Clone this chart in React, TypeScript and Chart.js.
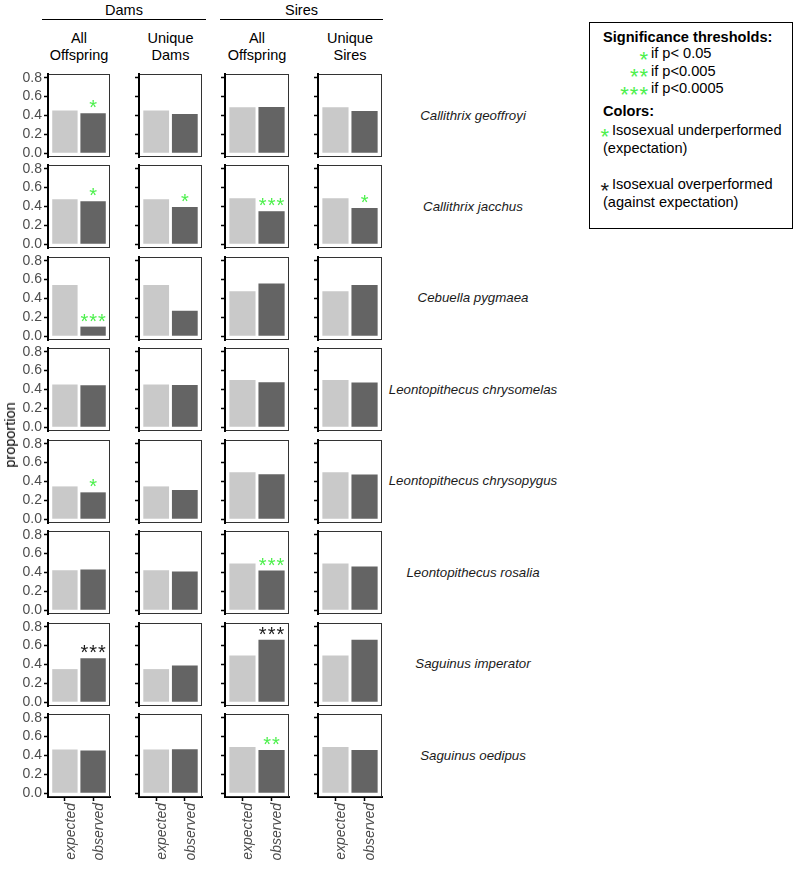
import React, { useEffect, useRef } from 'react';
import { Chart, registerables } from 'chart.js';

Chart.register(...registerables);

const FONT = "'Liberation Sans', Arial, Helvetica, sans-serif";
Chart.defaults.font.family = FONT;

// ---------------- data ----------------
const SPECIES = [
  'Callithrix geoffroyi',
  'Callithrix jacchus',
  'Cebuella pygmaea',
  'Leontopithecus chrysomelas',
  'Leontopithecus chrysopygus',
  'Leontopithecus rosalia',
  'Saguinus imperator',
  'Saguinus oedipus',
];
const GROUPS = ['Dams', 'Sires'];
const PANEL_TITLES = [
  ['All', 'Offspring'],
  ['Unique', 'Dams'],
  ['All', 'Offspring'],
  ['Unique', 'Sires'],
];
const CATEGORIES = ['expected', 'observed'];
const Y_TICKS = [0, 0.2, 0.4, 0.6, 0.8];
const Y_LABEL = 'proportion';

// columns: Dams/All Offspring, Dams/Unique Dams, Sires/All Offspring, Sires/Unique Sires
const EXPECTED = [
  [0.452, 0.452, 0.487, 0.487],
  [0.477, 0.477, 0.487, 0.487],
  [0.544, 0.544, 0.478, 0.478],
  [0.453, 0.453, 0.502, 0.502],
  [0.348, 0.348, 0.499, 0.499],
  [0.425, 0.425, 0.495, 0.495],
  [0.351, 0.351, 0.495, 0.495],
  [0.463, 0.463, 0.491, 0.491],
];
const OBSERVED = [
  [0.424, 0.417, 0.49, 0.449],
  [0.456, 0.396, 0.35, 0.385],
  [0.102, 0.27, 0.558, 0.544],
  [0.445, 0.449, 0.477, 0.474],
  [0.285, 0.31, 0.478, 0.475],
  [0.432, 0.41, 0.421, 0.463],
  [0.466, 0.389, 0.663, 0.663],
  [0.453, 0.466, 0.459, 0.459],
];
const STARS = [
  ['*', '', '', ''],
  ['*', '*', '***', '*'],
  ['***', '', '', ''],
  ['', '', '', ''],
  ['*', '', '', ''],
  ['', '', '***', ''],
  ['***', '', '***', ''],
  ['', '', '**', ''],
];

const LEGEND_TITLE = 'Significance thresholds:';
const LEGEND_THRESHOLDS = [
  ['*', 'if p< 0.05'],
  ['**', 'if p<0.005'],
  ['***', 'if p<0.0005'],
];
const LEGEND_COLORS_TITLE = 'Colors:';
const LEGEND_COLORS = [
  ['Isosexual underperformed', '(expectation)'],
  ['Isosexual overperformed', '(against expectation)'],
];

// ---------------- style / layout ----------------
const BOX_LEFT = [48, 139, 225, 318];
const BOX_W = [62, 63, 64, 64];
const BOX_TOP = 74;
const ROW_STEP = 91.43;
const BOX_H = 83;
const Y_AXIS_W = 48;
const PAD_T = 8;
const PAD_B = 6;
const PAD_R = 4;
const X_AXIS_H = 72;
const EXP_COLOR = '#c9c9c9';
const OBS_COLOR = '#646464';
const GREEN = '#4cf04c';
const DARK = '#1a1a1a';
const TICK_TEXT = '#4d4d4d';
const STAR_GAP = 0.11;

function zeroPadding(s: any) {
  s.paddingTop = 0;
  s.paddingBottom = 0;
  s.paddingLeft = 0;
  s.paddingRight = 0;
}

function Panel({ row, col }: { row: number; col: number }) {
  const ref = useRef<HTMLCanvasElement>(null);
  const last = row === SPECIES.length - 1;
  const top = Math.round(BOX_TOP + row * ROW_STEP) - PAD_T;
  const left = BOX_LEFT[col] - Y_AXIS_W;
  const width = Y_AXIS_W + BOX_W[col] + PAD_R;
  const height = PAD_T + BOX_H + (last ? X_AXIS_H : PAD_B);

  useEffect(() => {
    const exp = EXPECTED[row][col];
    const obs = OBSERVED[row][col];
    const values = [exp, obs];
    const stars = STARS[row][col];
    const overlay = {
      id: 'panelOverlay',
      afterDatasetsDraw(chart: any) {
        const { ctx, chartArea: a, scales } = chart;
        ctx.save();
        ctx.strokeStyle = '#333333';
        ctx.lineWidth = 1;
        ctx.strokeRect(a.left + 0.5, a.top + 0.5, a.right - a.left - 1, a.bottom - a.top - 1);
        ctx.fillStyle = '#000';
        ctx.fillRect(a.left - 1, a.top, 2, a.bottom - a.top);
        if (stars) {
          const x = scales.x.getPixelForValue(2);
          const y = scales.y.getPixelForValue(obs + STAR_GAP);
          ctx.fillStyle = obs > exp ? DARK : GREEN;
          ctx.font = `20px ${FONT}`;
          (ctx as any).letterSpacing = '1px';
          ctx.textAlign = 'center';
          ctx.textBaseline = 'alphabetic';
          ctx.fillText(stars, x + 0.5, y + 11.5);
        }
        ctx.restore();
      },
    };
    const chart = new Chart(ref.current as HTMLCanvasElement, {
      type: 'bar',
      data: {
        datasets: [
          {
            data: CATEGORIES.map((_, i) => ({ x: i + 1, y: values[i] })),
            backgroundColor: [EXP_COLOR, OBS_COLOR],
            borderWidth: 0,
            categoryPercentage: 0.9,
            barPercentage: 1,
          } as any,
        ],
      },
      options: {
        animation: false,
        responsive: false,
        events: [],
        layout: { padding: { top: PAD_T, right: PAD_R, bottom: last ? 0 : PAD_B, left: 0 } },
        plugins: { legend: { display: false }, tooltip: { enabled: false } },
        scales: {
          x: {
            type: 'linear',
            min: 0.4,
            max: 2.6,
            offset: false,
            display: last,
            afterBuildTicks: (s: any) => {
              s.ticks = CATEGORIES.map((_, i) => ({ value: i + 1 }));
            },
            afterFit: (s: any) => {
              s.height = last ? X_AXIS_H : 0;
              zeroPadding(s);
            },
            grid: {
              display: true,
              offset: false,
              drawOnChartArea: false,
              drawTicks: true,
              tickLength: 4,
              tickColor: '#000',
              tickWidth: 1.5,
            },
            border: { display: true, color: '#000', width: 2 },
            ticks: {
              autoSkip: false,
              minRotation: 90,
              maxRotation: 90,
              padding: 2,
              labelOffset: 6,
              color: TICK_TEXT,
              font: { family: FONT, size: 14, style: 'italic' },
              callback: (v: any) => CATEGORIES[Math.round(Number(v)) - 1],
            },
          },
          y: {
            type: 'linear',
            min: -0.04,
            max: 0.84,
            afterBuildTicks: (s: any) => {
              s.ticks = Y_TICKS.map((v) => ({ value: v }));
            },
            afterFit: (s: any) => {
              s.width = Y_AXIS_W;
              zeroPadding(s);
            },
            grid: {
              display: true,
              drawOnChartArea: false,
              drawTicks: true,
              tickLength: 4,
              tickColor: '#000',
              tickWidth: 1.5,
            },
            border: { display: true, color: '#000', width: 2 },
            ticks: {
              display: col === 0,
              autoSkip: false,
              padding: 2,
              color: TICK_TEXT,
              font: { family: FONT, size: 14 },
              callback: (v: any) => Number(v).toFixed(1),
            },
          },
        },
      } as any,
      plugins: [overlay],
    });
    return () => chart.destroy();
  }, [row, col]);

  return (
    <canvas
      ref={ref}
      width={width}
      height={height}
      style={{ position: 'absolute', left, top, width, height }}
    />
  );
}

function Txt({
  x,
  y,
  text,
  size = 14.5,
  align = 'center',
  weight = 'normal',
  italic = false,
  color = '#000',
}: {
  x: number;
  y: number;
  text: string;
  size?: number;
  align?: 'center' | 'left' | 'right';
  weight?: string;
  italic?: boolean;
  color?: string;
}) {
  const tx = align === 'center' ? '-50%' : align === 'right' ? '-100%' : '0';
  return (
    <div
      style={{
        position: 'absolute',
        left: x,
        top: y,
        transform: `translate(${tx}, -50%)`,
        whiteSpace: 'nowrap',
        fontFamily: FONT,
        fontSize: size,
        fontWeight: weight as any,
        fontStyle: italic ? 'italic' : 'normal',
        color,
        lineHeight: 1.15,
      }}
    >
      {text}
    </div>
  );
}

function Star({ x, y, text, color }: { x: number; y: number; text: string; color: string }) {
  // x = right edge, y = visual centre of the asterisks
  return (
    <div
      style={{
        position: 'absolute',
        left: x,
        top: y - 6,
        transform: 'translateX(-100%)',
        fontFamily: FONT,
        fontSize: 22,
        lineHeight: '22px',
        letterSpacing: 1,
        color,
        whiteSpace: 'nowrap',
      }}
    >
      {text}
    </div>
  );
}

export default function App() {
  const panels: JSX.Element[] = [];
  SPECIES.forEach((_, r) => {
    PANEL_TITLES.forEach((__, c) => {
      panels.push(<Panel key={`${r}-${c}`} row={r} col={c} />);
    });
  });
  const groupSpans = [
    [42, 206],
    [220, 383],
  ];
  return (
    <div style={{ position: 'absolute', left: 0, top: 0, width: 800, height: 870, background: '#fff' }}>
      {GROUPS.map((g, i) => (
        <React.Fragment key={g}>
          <Txt x={(groupSpans[i][0] + groupSpans[i][1]) / 2} y={10} text={g} />
          <div
            style={{
              position: 'absolute',
              left: groupSpans[i][0],
              top: 18.5,
              width: groupSpans[i][1] - groupSpans[i][0],
              height: 1.5,
              background: '#000',
            }}
          />
        </React.Fragment>
      ))}
      {PANEL_TITLES.map((t, c) => (
        <React.Fragment key={c}>
          <Txt x={BOX_LEFT[c] + BOX_W[c] / 2} y={38} text={t[0]} />
          <Txt x={BOX_LEFT[c] + BOX_W[c] / 2} y={55} text={t[1]} />
        </React.Fragment>
      ))}
      {panels}
      {SPECIES.map((s, r) => (
        <Txt key={s} x={473} y={BOX_TOP + r * ROW_STEP + BOX_H / 2} text={s} size={13.3} italic color={DARK} />
      ))}
      <div
        style={{
          position: 'absolute',
          left: 10,
          top: 435,
          transform: 'translate(-50%, -50%) rotate(-90deg)',
          fontFamily: FONT,
          fontSize: 14.5,
          whiteSpace: 'nowrap',
        }}
      >
        {Y_LABEL}
      </div>
      <div
        style={{
          position: 'absolute',
          left: 589,
          top: 22,
          width: 204,
          height: 207,
          boxSizing: 'border-box',
          border: '1.5px solid #000',
        }}
      />
      <Txt x={603} y={37} text={LEGEND_TITLE} size={14.6} weight="bold" align="left" />
      {LEGEND_THRESHOLDS.map((t, i) => (
        <React.Fragment key={t[0]}>
          <Star x={649} y={55 + i * 17.3} text={t[0]} color={GREEN} />
          <Txt x={651} y={53.3 + i * 17.3} text={t[1]} size={14.6} align="left" />
        </React.Fragment>
      ))}
      <Txt x={603} y={111} text={LEGEND_COLORS_TITLE} size={14.6} weight="bold" align="left" />
      {LEGEND_COLORS.map((t, i) => (
        <React.Fragment key={t[0]}>
          <Star x={610} y={132 + i * 54} text="*" color={i === 0 ? GREEN : DARK} />
          <Txt x={612} y={130 + i * 54} text={t[0]} size={14.6} align="left" />
          <Txt x={603} y={148 + i * 54} text={t[1]} size={14.6} align="left" />
        </React.Fragment>
      ))}
    </div>
  );
}
